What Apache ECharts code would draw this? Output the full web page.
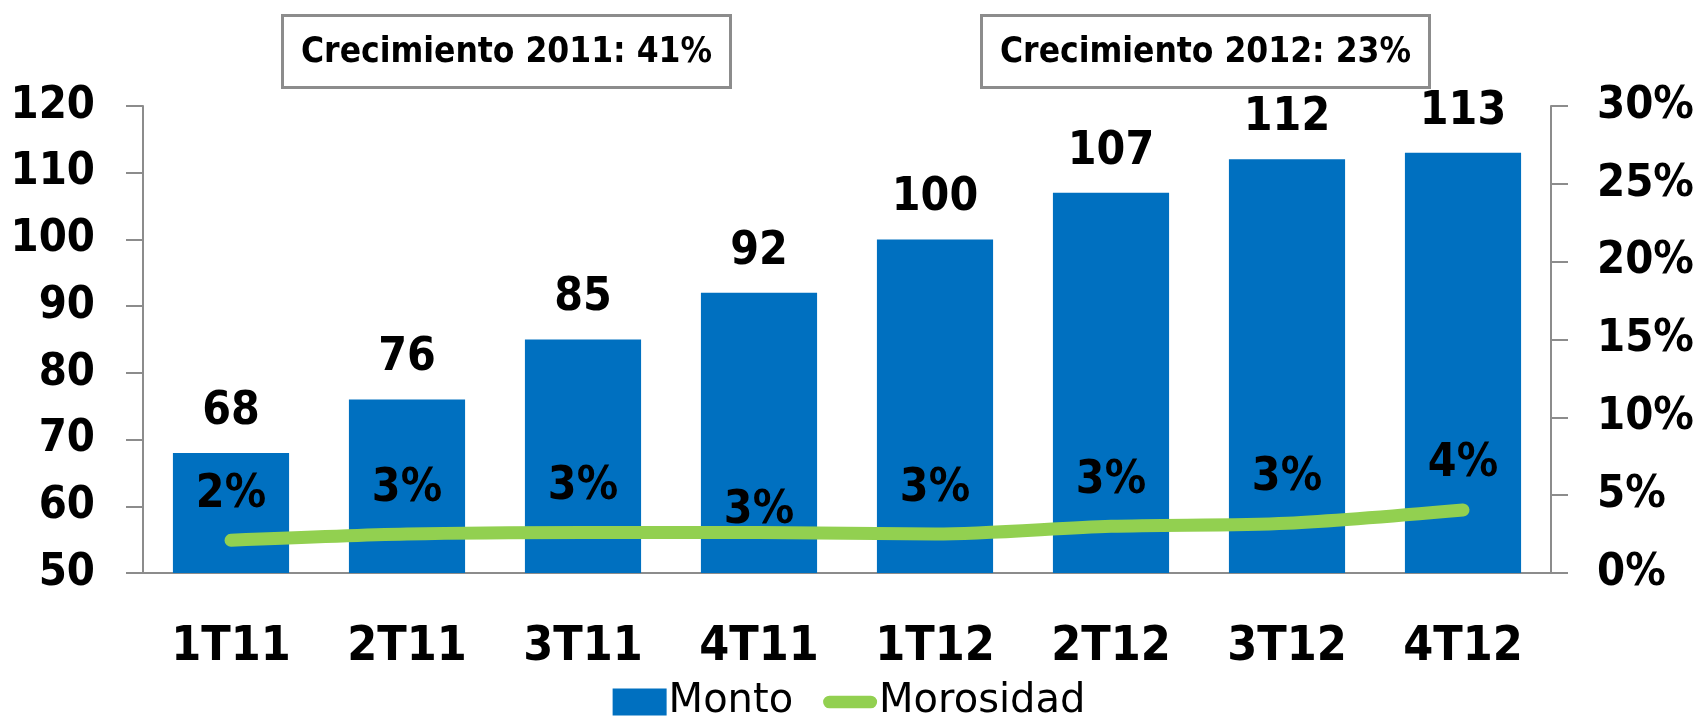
<!DOCTYPE html>
<html>
<head>
<meta charset="utf-8">
<script src="https://cdn.jsdelivr.net/npm/echarts@6/dist/echarts.min.js"></script>
<style>
  html, body { margin: 0; padding: 0; background: #fff; }
  #chart { width: 1698px; height: 716px; }
</style>
</head>
<body>
<div id="chart"></div>
<script>
const categories = ['1T11', '2T11', '3T11', '4T11', '1T12', '2T12', '3T12', '4T12'];
const monto = [68, 76, 85, 92, 100, 107, 112, 113];
const morosidad = [2.1, 2.5, 2.6, 2.6, 2.5, 3.0, 3.2, 4.05];
const notes = ['Crecimiento 2011: 41%', 'Crecimiento 2012: 23%'];

const FONT = '"DejaVu Sans Condensed", "DejaVu Sans", sans-serif';
const axisGray = '#8c8c8c';

const chart = echarts.init(document.getElementById('chart'));

const noteBox = (left, text) => ({
    type: 'group',
    left: left,
    top: 14,
    children: [
        { type: 'rect', shape: { x: 0, y: 0, width: 448, height: 72 },
          style: { fill: '#fff', stroke: '#8c8c8c', lineWidth: 3 } },
        { type: 'text', x: 224, y: 37,
          style: { text: text, font: 'bold 35px ' + FONT, fill: '#000', align: 'center', verticalAlign: 'middle' } }
    ]
});

// thick rounded stroke used as legend icon for the line
const lineIcon = 'path://M7,0 L53,0 A7,7 0 0 1 53,14 L7,14 A7,7 0 0 1 7,0 Z';

chart.setOption({
    animation: false,
    textStyle: { fontFamily: FONT },
    grid: { left: 143, right: 147, top: 106, bottom: 143, outerBoundsMode: 'none' },
    legend: {
        top: 677,
        left: 'center',
        itemWidth: 54,
        itemHeight: 27,
        itemGap: 30,
        textStyle: { fontSize: 40, color: '#000', fontFamily: '"DejaVu Sans", sans-serif', padding: [0, 0, 0, -3] },
        data: [
            { name: 'Monto', icon: 'rect' },
            { name: 'Morosidad', icon: lineIcon }
        ]
    },
    graphic: [noteBox(281, notes[0]), noteBox(980, notes[1])],
    xAxis: {
        type: 'category',
        data: categories,
        axisLine: { lineStyle: { color: axisGray, width: 2 } },
        axisTick: { length: 17, lineStyle: { color: axisGray, width: 2 } },
        axisLabel: { margin: 51, fontSize: 48, fontWeight: 'bold', color: '#000' }
    },
    yAxis: [
        {
            type: 'value', min: 50, max: 120, interval: 10,
            splitLine: { show: false },
            axisLine: { show: true, lineStyle: { color: axisGray, width: 2 } },
            axisTick: { show: true, inside: false, length: 17, lineStyle: { color: axisGray, width: 2 } },
            axisLabel: { margin: 48, fontSize: 45, fontWeight: 'bold', color: '#000' }
        },
        {
            type: 'value', min: 0, max: 30, interval: 5,
            splitLine: { show: false },
            axisLine: { show: true, lineStyle: { color: axisGray, width: 2 } },
            axisTick: { show: true, length: 17, lineStyle: { color: axisGray, width: 2 } },
            axisLabel: { margin: 46, fontSize: 45, fontWeight: 'bold', color: '#000', formatter: '{value}%' }
        }
    ],
    series: [
        {
            name: 'Monto',
            type: 'bar',
            data: monto,
            barCategoryGap: '34%',
            itemStyle: { color: '#0070C0' },
            label: { show: true, position: 'top', distance: 18, fontSize: 46, fontWeight: 'bold', color: '#000' }
        },
        {
            name: 'Morosidad',
            type: 'line',
            yAxisIndex: 1,
            data: morosidad.map((v, i) => i === 3
                ? { value: v, label: { distance: -2 } }
                : v),
            smooth: 0.3,
            symbol: 'circle',
            symbolSize: 1,
            showSymbol: true,
            lineStyle: { color: '#92D050', width: 13, cap: 'round' },
            itemStyle: { color: '#92D050' },
            label: {
                show: true, position: 'top', distance: 22,
                fontSize: 46, fontWeight: 'bold', color: '#000',
                formatter: p => Math.round(p.value) + '%'
            }
        }
    ]
});
</script>
</body>
</html>
